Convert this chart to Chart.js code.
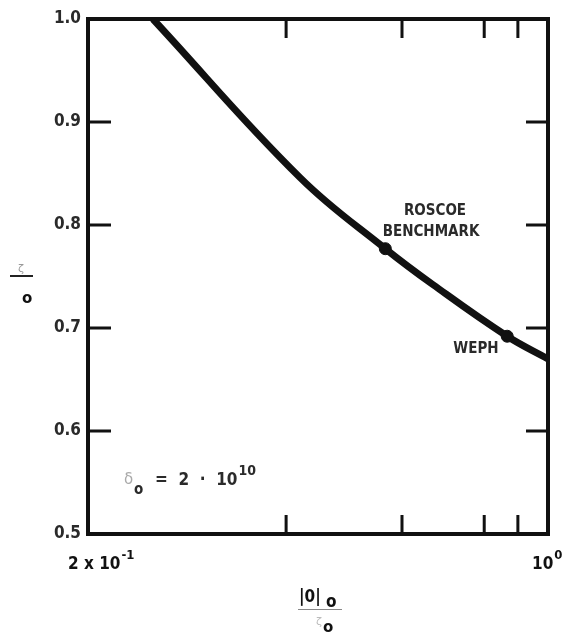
<!DOCTYPE html>
<html>
<head>
<meta charset="utf-8">
<script src="https://cdn.jsdelivr.net/npm/chart.js@4.4.0/dist/chart.umd.min.js"></script>
<style>
  html, body { margin: 0; padding: 0; background: #fff; }
  #wrap { width: 566px; height: 635px; position: relative; }
</style>
</head>
<body>
<div id="wrap"><canvas id="chart" width="566" height="635"></canvas></div>
<script>
// Curve (x on log scale)
const curveX = [0.251, 0.42, 0.566, 0.669, 0.867, 1.0];
const curveY = [1.0, 0.846, 0.777, 0.742, 0.692, 0.670];

// Marked points
const markNames = ['ROSCOE BENCHMARK', 'WEPH'];
const markX = [0.566, 0.867];
const markY = [0.777, 0.692];

// Axis ticks
const yTicks = [0.5, 0.6, 0.7, 0.8, 0.9, 1.0];
const yTickLabels = ['0.5', '0.6', '0.7', '0.8', '0.9', '1.0'];
const xTicks = [0.4, 0.6, 0.8, 0.9];
const xMin = 0.2, xMax = 1.0;

const ink = '#111';
const labelInk = '#2a2a2a';
const cond = '"DejaVu Sans Condensed", "DejaVu Sans"';

// text followed by a raised exponent
function textWithExp(ctx, base, exp, x, y, baseFont, expFont, rise) {
    ctx.font = baseFont;
    ctx.fillText(base, x, y);
    const w = ctx.measureText(base).width;
    ctx.font = expFont;
    ctx.fillText(exp, x + w + 1, y - rise);
}

// Frame, inward ticks and all the text
const framePlugin = {
    id: 'frame',
    afterDraw(chart) {
        const ctx = chart.ctx;
        const xs = chart.scales.x, ys = chart.scales.y;
        const a = chart.chartArea;
        ctx.save();
        ctx.strokeStyle = ink;
        ctx.lineWidth = 4;
        ctx.strokeRect(a.left, a.top, a.right - a.left, a.bottom - a.top);

        // y ticks, both sides
        ctx.lineWidth = 3;
        yTicks.forEach(v => {
            if (v === 0.5 || v === 1.0) return;
            const y = ys.getPixelForValue(v);
            ctx.beginPath();
            ctx.moveTo(a.left, y); ctx.lineTo(a.left + 23, y);
            ctx.moveTo(a.right, y); ctx.lineTo(a.right - 22, y);
            ctx.stroke();
        });
        // x ticks, top and bottom
        xTicks.forEach(v => {
            const x = xs.getPixelForValue(v);
            ctx.beginPath();
            ctx.moveTo(x, a.bottom); ctx.lineTo(x, a.bottom - 19);
            ctx.moveTo(x, a.top); ctx.lineTo(x, a.top + 19);
            ctx.stroke();
        });

        // y tick labels
        ctx.fillStyle = labelInk;
        ctx.font = 'bold 17px ' + cond;
        ctx.textAlign = 'right';
        ctx.textBaseline = 'middle';
        yTicks.forEach((v, i) => {
            ctx.fillText(yTickLabels[i], a.left - 7, ys.getPixelForValue(v));
        });

        // x end labels
        ctx.fillStyle = ink;
        ctx.textAlign = 'left';
        ctx.textBaseline = 'alphabetic';
        textWithExp(ctx, '2 x 10', '-1', 68, 569, 'bold 17px ' + cond, 'bold 13px ' + cond, 10);
        textWithExp(ctx, '10', '0', 532, 569, 'bold 17px ' + cond, 'bold 13px ' + cond, 10);

        // point labels
        ctx.font = 'bold 15px ' + cond;
        ctx.textAlign = 'center';
        ctx.fillStyle = labelInk;
        ctx.fillText('ROSCOE', 435, 215);
        ctx.fillText('BENCHMARK', 431, 236);
        ctx.fillText('WEPH', 476, 353);

        // annotation
        ctx.textAlign = 'left';
        ctx.fillStyle = '#aaa';
        ctx.font = '15px "DejaVu Sans"';
        ctx.fillText('δ', 124, 484);
        ctx.fillStyle = labelInk;
        ctx.font = 'bold 15px ' + cond;
        ctx.fillText('o', 134, 494);
        textWithExp(ctx, '=  2  ·  10', '10', 155, 485, 'bold 17px ' + cond, 'bold 14px ' + cond, 10);

        // x axis title
        ctx.font = 'bold 17px ' + cond;
        ctx.fillStyle = ink;
        ctx.fillText('|0|', 299, 602);
        ctx.fillText('o', 326, 607);
        ctx.strokeStyle = '#888';
        ctx.lineWidth = 1;
        ctx.beginPath(); ctx.moveTo(298, 609.5); ctx.lineTo(342, 609.5); ctx.stroke();
        ctx.fillStyle = '#bbb';
        ctx.font = '11px "DejaVu Sans"';
        ctx.fillText('ζ', 316, 625);
        ctx.fillStyle = ink;
        ctx.font = 'bold 15px "DejaVu Sans"';
        ctx.fillText('o', 323, 632);

        // y axis title
        ctx.fillStyle = '#999';
        ctx.font = '11px "DejaVu Sans"';
        ctx.fillText('ζ', 18, 272);
        ctx.strokeStyle = '#222';
        ctx.lineWidth = 2;
        ctx.beginPath(); ctx.moveTo(10, 276); ctx.lineTo(33, 276); ctx.stroke();
        ctx.fillStyle = ink;
        ctx.font = 'bold 15px "DejaVu Sans"';
        ctx.fillText('o', 22, 303);
        ctx.restore();
    }
};

new Chart(document.getElementById('chart'), {
    type: 'scatter',
    data: {
        datasets: [
            {
                label: 'curve',
                data: curveX.map((x, i) => ({ x: x, y: curveY[i] })),
                showLine: true,
                borderColor: ink,
                borderWidth: 7,
                pointRadius: 0,
                tension: 0.4,
                fill: false
            },
            {
                label: 'marks',
                data: markX.map((x, i) => ({ x: x, y: markY[i], name: markNames[i] })),
                showLine: false,
                pointRadius: 6,
                pointBackgroundColor: ink,
                pointBorderColor: ink
            }
        ]
    },
    options: {
        responsive: false,
        animation: false,
        layout: { padding: { left: 88, right: 18, top: 19, bottom: 101 } },
        plugins: {
            legend: { display: false },
            tooltip: { enabled: false }
        },
        scales: {
            x: { type: 'logarithmic', min: xMin, max: xMax, display: false },
            y: { type: 'linear', min: 0.5, max: 1.0, display: false }
        }
    },
    plugins: [framePlugin]
});
</script>
</body>
</html>
